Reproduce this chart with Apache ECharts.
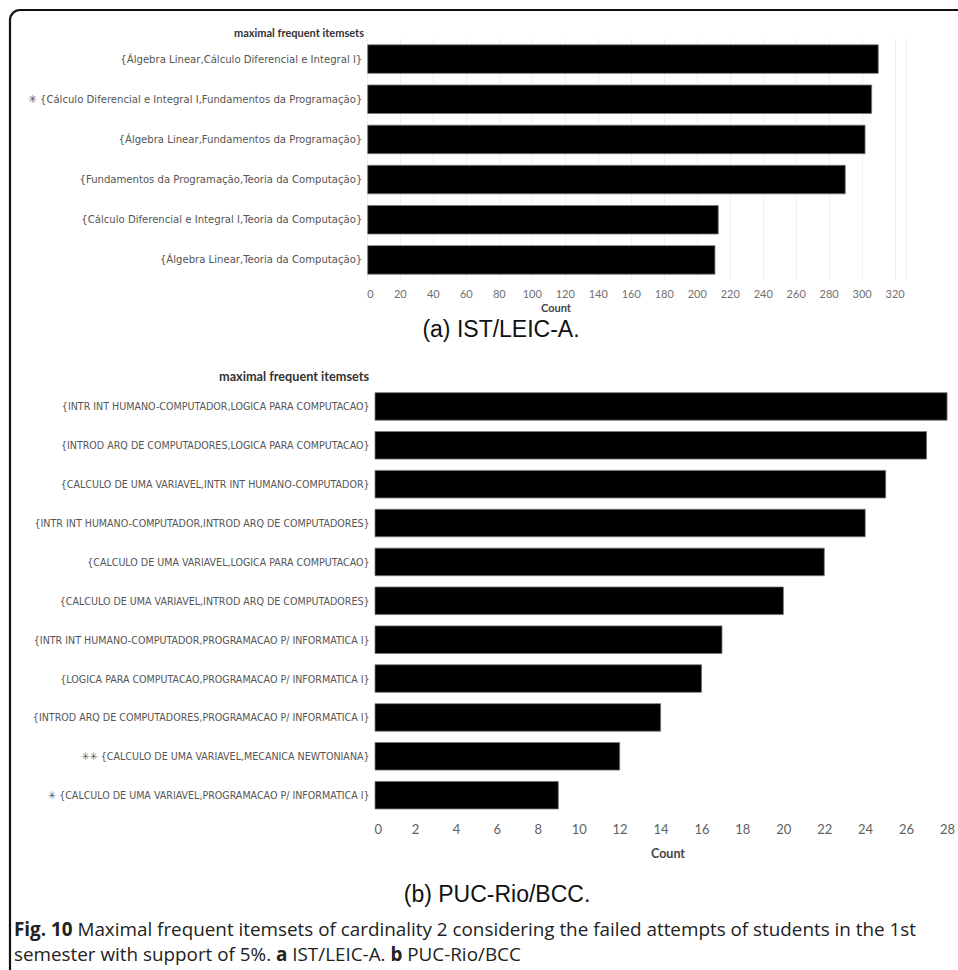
<!DOCTYPE html>
<html>
<head>
<meta charset="utf-8">
<script src="https://cdn.jsdelivr.net/npm/echarts@6/dist/echarts.min.js"></script>
<style>
html,body{margin:0;padding:0;background:#fff;}
#chart{width:958px;height:970px;}
</style>
</head>
<body>
<div id="chart"></div>
<script>
// ---------------- data ----------------
const istCategories = [
  "{Álgebra Linear,Cálculo Diferencial e Integral I}",
  "✳ {Cálculo Diferencial e Integral I,Fundamentos da Programação}",
  "{Álgebra Linear,Fundamentos da Programação}",
  "{Fundamentos da Programação,Teoria da Computação}",
  "{Cálculo Diferencial e Integral I,Teoria da Computação}",
  "{Álgebra Linear,Teoria da Computação}"
];
const istCounts = [310, 306, 302, 290, 213, 211];

const pucCategories = [
  "{INTR INT HUMANO-COMPUTADOR,LOGICA PARA COMPUTACAO}",
  "{INTROD ARQ DE COMPUTADORES,LOGICA PARA COMPUTACAO}",
  "{CALCULO DE UMA VARIAVEL,INTR INT HUMANO-COMPUTADOR}",
  "{INTR INT HUMANO-COMPUTADOR,INTROD ARQ DE COMPUTADORES}",
  "{CALCULO DE UMA VARIAVEL,LOGICA PARA COMPUTACAO}",
  "{CALCULO DE UMA VARIAVEL,INTROD ARQ DE COMPUTADORES}",
  "{INTR INT HUMANO-COMPUTADOR,PROGRAMACAO P/ INFORMATICA I}",
  "{LOGICA PARA COMPUTACAO,PROGRAMACAO P/ INFORMATICA I}",
  "{INTROD ARQ DE COMPUTADORES,PROGRAMACAO P/ INFORMATICA I}",
  "✳✳ {CALCULO DE UMA VARIAVEL,MECANICA NEWTONIANA}",
  "✳ {CALCULO DE UMA VARIAVEL,PROGRAMACAO P/ INFORMATICA I}"
];
const pucCounts = [28, 27, 25, 24, 22, 20, 17, 16, 14, 12, 9];

const istTickStep = 20;
const istAxisMax = 327;
const pucTickStep = 2;
const pucAxisMax = 28;

const axisTitle = "maximal frequent itemsets";
const valueTitle = "Count";
const captionA = "(a) IST/LEIC-A.";
const captionB = "(b) PUC-Rio/BCC.";
const figText = "{b|Fig. 10} Maximal frequent itemsets of cardinality 2 considering the failed attempts of students in the 1st\nsemester with support of 5%. {b|a} IST/LEIC-A. {b|b} PUC-Rio/BCC";

// ---------------- font fitting helper ----------------
const mctx = document.createElement('canvas').getContext('2d');
function fitSize(text, family, weight, target) {
  mctx.font = weight + ' 100px ' + family;
  return 100 * target / mctx.measureText(text).width;
}
const LBL = '"Liberation Sans Narrow", "DejaVu Sans Condensed", Lato, sans-serif';
const UI = 'Lato, sans-serif';
const istLabelSize = fitSize(istCategories[0], LBL, 'normal', 242);
const pucLabelSize = fitSize(pucCategories[0], LBL, 'normal', 308);
const capFont = '"Open Sans", sans-serif';
const figSize = fitSize("Fig. 10 Maximal frequent itemsets of cardinality 2 considering the failed attempts of students in the 1st", capFont, 'normal', 900);

// ---------------- chart ----------------
const chart = echarts.init(document.getElementById('chart'), null, {renderer: 'svg'});

function txt(x, y, text, opts) {
  return {
    type: 'text', x: x, y: y, silent: true,
    style: Object.assign({
      text: text,
      fill: '#333',
      fontFamily: UI,
      fontSize: 11,
      align: 'center', textAlign: 'center',
      verticalAlign: 'middle', textVerticalAlign: 'middle'
    }, opts || {})
  };
}

const option = {
  animation: false,
  backgroundColor: '#fff',
  textStyle: {fontFamily: UI},
  grid: [
    {left: 367.3, right: 958 - 906.7, top: 39, height: 241, containLabel: false},
    {left: 374.6, right: 958 - 953.4, top: 387, height: 427.6, containLabel: false}
  ],
  xAxis: [
    {
      gridIndex: 0, type: 'value', min: 0, max: istAxisMax, interval: istTickStep,
      axisLine: {show: false}, axisTick: {show: false},
      splitLine: {show: true, lineStyle: {color: '#f0f0f0', width: 1}},
      axisLabel: {color: '#707070', fontFamily: UI, fontSize: 11, margin: 8, showMaxLabel: false, alignMinLabel: 'left'}
    },
    {
      gridIndex: 1, type: 'value', min: 0, max: pucAxisMax, interval: pucTickStep,
      axisLine: {show: false}, axisTick: {show: false},
      splitLine: {show: false},
      axisLabel: {color: '#606060', fontFamily: UI, fontSize: 13, margin: 8, alignMinLabel: 'left'}
    }
  ],
  yAxis: [
    {
      gridIndex: 0, type: 'category', data: istCategories, inverse: true,
      axisLine: {show: false}, axisTick: {show: false}, splitLine: {show: false},
      axisLabel: {color: '#555', fontFamily: LBL, fontSize: istLabelSize, margin: 5, interval: 0}
    },
    {
      gridIndex: 1, type: 'category', data: pucCategories, inverse: true,
      axisLine: {show: false}, axisTick: {show: false}, splitLine: {show: false},
      axisLabel: {color: '#555', fontFamily: LBL, fontSize: pucLabelSize, margin: 5, interval: 0}
    }
  ],
  series: [
    {
      type: 'bar', xAxisIndex: 0, yAxisIndex: 0, data: istCounts, barWidth: '73%',
      itemStyle: {color: '#000', borderColor: '#777', borderWidth: 0.8},
      silent: true
    },
    {
      type: 'bar', xAxisIndex: 1, yAxisIndex: 1, data: pucCounts, barWidth: '73%',
      itemStyle: {color: '#000', borderColor: '#777', borderWidth: 0.8},
      silent: true
    }
  ],
  graphic: [
    {
      type: 'rect', silent: true,
      shape: {x: 10, y: 10, width: 1200, height: 1200, r: 10},
      style: {fill: 'none', stroke: '#111', lineWidth: 2.2}
    },
    txt(364, 32, axisTitle, {fontWeight: 'bold', fontSize: 11, align: 'right', textAlign: 'right', fill: '#333'}),
    txt(369, 376, axisTitle, {fontWeight: 'bold', fontSize: 12.7, align: 'right', textAlign: 'right', fill: '#333'}),
    txt(556, 307, valueTitle, {fontWeight: 'bold', fontSize: 11, fill: '#444'}),
    txt(668, 853, valueTitle, {fontWeight: 'bold', fontSize: 12.5, fill: '#444'}),
    txt(501, 329, captionA, {fontFamily: '"Liberation Sans", Arial, sans-serif', fontSize: 23, fill: '#111'}),
    txt(497, 894, captionB, {fontFamily: '"Liberation Sans", Arial, sans-serif', fontSize: 23, fill: '#111'}),
    txt(14, 917, figText, {
      fontFamily: capFont, fontSize: figSize, lineHeight: 24.5, fill: '#222',
      align: 'left', textAlign: 'left', verticalAlign: 'top', textVerticalAlign: 'top',
      rich: {b: {fontFamily: capFont, fontSize: figSize, lineHeight: 24.5, fontWeight: 'bold', fill: '#222'}}
    })
  ]
};
chart.setOption(option);
</script>
</body>
</html>
